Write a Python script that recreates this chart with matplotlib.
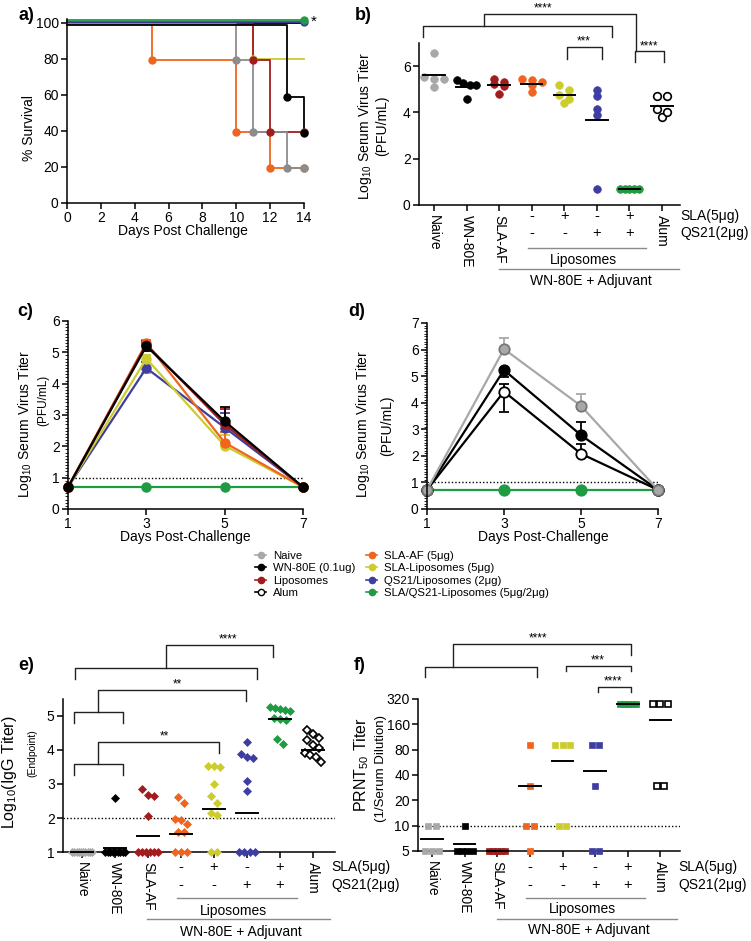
import numpy as np
import matplotlib
matplotlib.use('Agg')
import matplotlib.pyplot as plt
import matplotlib.transforms as mtransforms
from matplotlib.lines import Line2D
from matplotlib.ticker import MultipleLocator, NullLocator

plt.rcParams['font.family'] = ['Liberation Sans', 'DejaVu Sans']
plt.rcParams['mathtext.default'] = 'regular'

GRAY_A = '#8c8c8c'
GRAY = '#a8a8a8'
DRED = '#a11d1d'
ORANGE = '#f0641e'
YELLOW = '#cccc2e'
BLUE = '#3e3ea2'
GREEN = '#1f9b42'

# ---- legend groups ----
legend_names = ['Naive', 'WN-80E (0.1ug)', 'Liposomes', 'Alum',
                'SLA-AF (5μg)', 'SLA-Liposomes (5μg)', 'QS21/Liposomes (2μg)',
                'SLA/QS21-Liposomes (5μg/2μg)']
legend_colors = [GRAY, 'black', DRED, 'white', ORANGE, YELLOW, BLUE, GREEN]

# ---- a) survival (same group order as legend) ----
a_days = [[0, 10, 11, 13, 14], [0, 13, 14], [0, 11, 12, 14], [0, 14],
          [0, 5, 10, 12, 14], [0, 11, 14], [0, 14], [0, 14]]
a_surv = [[100, 80, 40, 20, 20], [100, 60, 40], [100, 80, 40, 40], [100, 100],
          [100, 80, 40, 20, 20], [100, 80, 80], [100, 100], [100, 100]]
a_colors = [GRAY_A, 'black', DRED, 'black', ORANGE, YELLOW, BLUE, GREEN]
a_shift = [-0.6, -1.0, -0.4, 0, -0.3, 0, 0.4, 1.5]
a_mark_end = [True, True, True, False, True, False, True, True]
a_order = [5, 3, 2, 4, 0, 1, 6, 7]

# ---- c) viremia, vaccinated groups ----
c_days = [1, 3, 5, 7]
c_mean = [[0.7, 5.2, 2.8, 0.7], [0.7, 5.25, 2.7, 0.7], [0.7, 5.3, 2.12, 0.7],
          [0.7, 4.8, 2.02, 0.7], [0.7, 4.5, 2.6, 0.7], [0.7, 0.7, 0.7, 0.7]]
c_err_lo = [[0, 0.15, 0, 0], [0, 0, 0, 0], [0, 0, 0, 0],
            [0, 0.45, 0, 0], [0, 0.15, 0.15, 0], [0, 0, 0, 0]]
c_err_hi = [[0, 0.1, 0.45, 0], [0, 0.1, 0.5, 0], [0, 0.1, 0.35, 0],
            [0, 0.1, 0.33, 0], [0, 0.2, 0.45, 0], [0, 0, 0, 0]]
c_colors = ['black', DRED, ORANGE, YELLOW, BLUE, GREEN]
c_order = [5, 4, 3, 2, 1, 0]

# ---- d) viremia, controls ----
d_mean = [[0.72, 6.02, 3.88, 0.72], [0.72, 5.23, 2.78, 0.72],
          [0.72, 4.42, 2.08, 0.72], [0.72, 0.72, 0.72, 0.72]]
d_err_lo = [[0, 0, 0, 0], [0, 0.26, 0, 0], [0, 0.77, 0, 0], [0, 0, 0, 0]]
d_err_hi = [[0, 0.4, 0.45, 0], [0, 0, 0.5, 0], [0, 0.3, 0.36, 0], [0, 0, 0, 0]]
d_colors = [GRAY, 'black', 'black', GREEN]
d_face = [GRAY, 'black', 'white', GREEN]
d_order = [3, 2, 1, 0]

# ---- b, e, f) per-animal values ----
cat_labels = ['Naive', 'WN-80E', 'SLA-AF', '', '', '', '', 'Alum']
sla_row = ['-', '+', '-', '+']
qs21_row = ['-', '-', '+', '+']
dot_colors = [GRAY, 'black', DRED, ORANGE, YELLOW, BLUE, GREEN, 'white']

b_vals = [[6.57, 5.46, 5.43, 5.55, 5.12], [5.39, 5.2, 5.2, 5.29, 4.57],
          [5.22, 5.32, 5.46, 4.81, 5.15], [5.3, 5.45, 5.4, 5.2, 4.88],
          [5.18, 4.98, 4.74, 4.4, 4.57], [4.96, 4.69, 4.13, 3.87, 0.68],
          [0.7, 0.7, 0.7, 0.7, 0.7], [4.7, 4.7, 4.15, 3.8, 4.0]]
b_means = [5.6, 5.12, 5.19, 5.22, 4.74, 3.67, 0.7, 4.28]

e_vals = [[1] * 10,
          [2.6] + [1] * 9,
          [2.84, 2.65, 2.68, 2.07, 1, 1, 1, 1, 1, 1],
          [2.62, 2.45, 1.97, 1.94, 1.82, 1.6, 1.6, 1, 1, 1],
          [3.54, 3.49, 3.52, 3.0, 2.65, 2.43, 2.14, 2.1, 1, 1],
          [4.24, 3.8, 3.77, 3.88, 3.08, 2.79, 1, 1, 1, 1],
          [5.24, 5.2, 5.17, 5.26, 5.15, 4.95, 4.9, 4.88, 4.32, 4.18],
          [4.6, 4.47, 4.35, 4.3, 4.15, 4.05, 3.9, 3.85, 3.78, 3.65]]
e_means = [1.0, 1.12, 1.46, 1.52, 2.27, 2.15, 4.91, 4.0]

f_vals = [[10, 10, 5, 5, 5], [10, 5, 5, 5, 5], [5, 5, 5, 5, 5],
          [90, 30, 10, 10, 5], [90, 90, 90, 10, 10], [90, 90, 30, 5, 5],
          [280, 280, 280, 280, 280], [280, 280, 280, 30, 30]]
f_means = [7, 6, 5, 30, 59, 45, 280, 180]
f_ticks = [5, 10, 20, 40, 80, 160, 320]

W, H = 751, 941
fig = plt.figure(figsize=(W / 100, H / 100), dpi=100)


def add_ax(x0, y0, x1, y1):
    return fig.add_axes([x0 / W, 1 - y1 / H, (x1 - x0) / W, (y1 - y0) / H])


def ftext(x, y, s, **kw):
    fig.text(x / W, 1 - y / H, s, ha='center', va='center', **kw)


def style(ax):
    for s in ['top', 'right']:
        ax.spines[s].set_visible(False)
    for s in ['left', 'bottom']:
        ax.spines[s].set_linewidth(1.1)
    ax.tick_params(width=1.1, length=4, labelsize=10, pad=2)


def spread(vals, step, tol, maxw):
    vals = np.asarray(vals, float)
    order = np.argsort(-vals, kind='stable')
    offs = np.zeros(len(vals))
    clusters = []
    for i in order:
        if clusters and abs(vals[clusters[-1][0]] - vals[i]) <= tol:
            clusters[-1].append(i)
        else:
            clusters.append([i])
    for c in clusters:
        n = len(c)
        st = step if n < 2 else min(step, maxw / (n - 1))
        for k, i in enumerate(c):
            offs[i] = (k - (n - 1) / 2) * st
    return offs


def dots(ax, vals, means, marker, ms, step, tol, maxw, logy=False):
    for i, v in enumerate(vals):
        key = np.log2(v) if logy else v
        x = i + spread(key, step, tol, maxw)
        open_ = dot_colors[i] == 'white'
        ax.plot(x, v, ls='none', marker=marker, ms=ms,
                mfc=dot_colors[i], mec='black' if open_ else dot_colors[i],
                mew=1.2 if open_ else 0.5, clip_on=False, zorder=3)
        ax.plot([i - 0.33, i + 0.33], [means[i], means[i]], color='black',
                lw=1.4, clip_on=False, zorder=4)


def under(ax, dy):
    return mtransforms.offset_copy(ax.get_xaxis_transform(), fig=fig,
                                   x=0, y=-dy * 0.72, units='points')


def adjuvant_axis(ax, d):
    ax.set_xticks(range(8))
    ax.set_xticklabels(cat_labels, rotation=270, va='top', ha='center',
                       fontsize=10)
    ax.tick_params(axis='x', pad=3)
    for i in range(4):
        ax.text(3 + i, 0, sla_row[i], transform=under(ax, d[0]),
                ha='center', va='center', fontsize=10.5)
        ax.text(3 + i, 0, qs21_row[i], transform=under(ax, d[1]),
                ha='center', va='center', fontsize=10.5)
    ax.text(7.55, 0, 'SLA(5μg)', transform=under(ax, d[0]),
            ha='left', va='center', fontsize=10)
    ax.text(7.55, 0, 'QS21(2μg)', transform=under(ax, d[1]),
            ha='left', va='center', fontsize=10)
    ax.plot([2.87, 6.52], [0, 0], transform=under(ax, d[2]),
            color='#8a8a8a', lw=1.0, clip_on=False)
    ax.text(4.6, 0, 'Liposomes', transform=under(ax, d[3]),
            ha='center', va='center', fontsize=10)
    ax.plot([1.98, 7.52], [0, 0], transform=under(ax, d[4]),
            color='#8a8a8a', lw=1.0, clip_on=False)
    ax.text(4.8, 0, 'WN-80E + Adjuvant', transform=under(ax, d[5]),
            ha='center', va='center', fontsize=10)


def bracket(ax, x0, x1, y, yl, yr):
    ax.plot([x0, x0, x1, x1], [yl, y, y, yr], color='#222222', lw=1.0,
            clip_on=False, zorder=5)


def stars(ax, x, y, s):
    ax.text(x, y, s, ha='center', va='baseline', fontsize=8.5,
            clip_on=False)


# ================= a) =================
ax = add_ax(67, 19.4, 304, 203)
style(ax)
for g in a_order:
    t = a_days[g]
    s = np.array(a_surv[g], float) + a_shift[g]
    ax.step(t, s, where='post', color=a_colors[g], lw=1.3, clip_on=False,
            zorder=2)
    idx = [i for i in range(1, len(s)) if a_surv[g][i] < a_surv[g][i - 1]]
    if a_mark_end[g] and len(t) - 1 not in idx:
        idx.append(len(t) - 1)
    if idx:
        ax.plot(np.array(t)[idx], s[idx], 'o', color=a_colors[g], ms=5,
                clip_on=False, zorder=3)
ax.set_xlim(0, 14)
ax.set_ylim(0, 102)
ax.set_xticks(range(0, 15, 2))
ax.set_yticks(range(0, 101, 20))
ax.text(14.55, 100.5, '*', fontsize=11, ha='center', va='center')
ftext(183, 231, 'Days Post Challenge', fontsize=10)
ftext(29, 128, '% Survival', fontsize=10, rotation=90)
ftext(26, 16, 'a)', fontsize=13, fontweight='bold')

# ================= b) =================
ax = add_ax(419, 43, 680, 205)
style(ax)
dots(ax, b_vals, b_means, 'o', 5.5, 0.3, 0.2, 0.6)
ax.set_xlim(-0.46, 7.55)
ax.set_ylim(0, 7)
ax.set_yticks([0, 2, 4, 6])
adjuvant_axis(ax, [11, 28, 43, 55, 64, 76])
bracket(ax, 1.54, 6.2, 8.26, 7.74, 6.65)
bracket(ax, -0.34, 5.47, 7.74, 7.26, 7.26)
bracket(ax, 4.08, 5.16, 6.83, 6.3, 6.3)
bracket(ax, 6.17, 7.06, 6.65, 6.17, 6.17)
stars(ax, 3.35, 8.35, '****')
stars(ax, 4.6, 6.92, '***')
stars(ax, 6.6, 6.74, '****')
ftext(365, 126, 'Log$_{10}$ Serum Virus Titer', fontsize=10, rotation=90)
ftext(382, 126, '(PFU/mL)', fontsize=10, rotation=90)
ftext(363, 16, 'b)', fontsize=13, fontweight='bold')

# ================= c) =================
ax = add_ax(68, 321, 303, 509)
style(ax)
ax.axhline(1.0, color='black', ls=(0, (1, 1.5)), lw=1.0, zorder=1)
for g in c_order:
    ax.plot(c_days, c_mean[g], '-o', color=c_colors[g], ms=6.5, lw=1.6,
            clip_on=False, zorder=2 + (5 - g) * 0.1)
    lo = np.array(c_err_lo[g])
    hi = np.array(c_err_hi[g])
    m = (lo > 0) | (hi > 0)
    if m.any():
        ax.errorbar(np.array(c_days)[m], np.array(c_mean[g])[m],
                    yerr=[lo[m], hi[m]], fmt='none', ecolor=c_colors[g],
                    elinewidth=1.3, capsize=3.5, capthick=1.3, zorder=1.9)
ax.set_xlim(1, 7)
ax.set_ylim(0, 6)
ax.set_xticks(c_days)
ax.set_yticks(range(0, 7))
ax.yaxis.set_minor_locator(MultipleLocator(0.1))
ax.tick_params(axis='y', which='minor', length=2, width=0.6)
ftext(185, 537, 'Days Post-Challenge', fontsize=10)
ftext(25, 424, 'Log$_{10}$ Serum Virus Titer', fontsize=10, rotation=90)
ftext(43, 400, '(PFU/mL)', fontsize=8.5, rotation=90)
ftext(25, 312, 'c)', fontsize=13, fontweight='bold')

# ================= d) =================
ax = add_ax(427, 323, 658, 509)
style(ax)
ax.axhline(1.0, color='black', ls=(0, (1, 1.5)), lw=1.0, zorder=1)
for g in d_order:
    ax.plot(c_days, d_mean[g], '-o', color=d_colors[g], mfc=d_face[g],
            mec='#777777' if g == 0 else d_colors[g], mew=1.3, ms=7.5,
            lw=1.6, clip_on=False, zorder=2 + (3 - g) * 0.1)
    lo = np.array(d_err_lo[g])
    hi = np.array(d_err_hi[g])
    m = (lo > 0) | (hi > 0)
    if m.any():
        ax.errorbar(np.array(c_days)[m], np.array(d_mean[g])[m],
                    yerr=[lo[m], hi[m]], fmt='none', ecolor=d_colors[g],
                    elinewidth=1.3, capsize=3.5, capthick=1.3, zorder=1.9)
ax.set_xlim(1, 7)
ax.set_ylim(0, 7)
ax.set_xticks(c_days)
ax.set_yticks(range(0, 8))
ax.yaxis.set_minor_locator(MultipleLocator(0.1))
ax.tick_params(axis='y', which='minor', length=2, width=0.6)
ftext(543, 537, 'Days Post-Challenge', fontsize=10)
ftext(363, 424, 'Log$_{10}$ Serum Virus Titer', fontsize=10, rotation=90)
ftext(387, 426, '(PFU/mL)', fontsize=10, rotation=90)
ftext(357, 312, 'd)', fontsize=13, fontweight='bold')

# ================= legend =================
handles = []
for name, col in zip(legend_names, legend_colors):
    handles.append(Line2D([], [], color='black' if col == 'white' else col,
                          marker='o', ms=4.5, lw=1.2, mfc=col,
                          mec='black' if col == 'white' else col, mew=1.0))
fig.legend(handles, legend_names, loc='upper left', ncol=2, frameon=False,
           bbox_to_anchor=(255 / W, 1 - 551 / H), borderaxespad=0,
           borderpad=0, fontsize=8.2, handlelength=1.0, handletextpad=0.6,
           labelspacing=0.2, columnspacing=0.9)

# ================= e) =================
ax = add_ax(63, 699, 335, 852)
style(ax)
ax.axhline(2.0, color='black', ls=(0, (1, 1.5)), lw=1.0, zorder=1)
dots(ax, e_vals, e_means, 'D', 4.2, 0.17, 0.25, 0.6)
ax.set_xlim(-0.58, 7.67)
ax.set_ylim(1, 5.5)
ax.set_yticks([1, 2, 3, 4, 5])
adjuvant_axis(ax, [15, 33, 46, 59, 67, 80])
bracket(ax, 2.55, 5.79, 7.09, 6.41, 6.74)
bracket(ax, -0.21, 5.3, 6.41, 6.09, 6.09)
bracket(ax, 0.48, 4.97, 5.76, 5.12, 5.44)
bracket(ax, -0.24, 1.24, 5.12, 4.79, 4.79)
bracket(ax, 0.48, 4.15, 4.24, 3.59, 3.91)
bracket(ax, -0.24, 1.24, 3.59, 3.26, 3.26)
stars(ax, 4.42, 7.16, '****')
stars(ax, 2.9, 5.83, '**')
stars(ax, 2.5, 4.31, '**')
ftext(10, 772, 'Log$_{10}$(IgG Titer)', fontsize=11.5, rotation=90)
ftext(32, 753, '(Endpoint)', fontsize=7.5, rotation=90)
ftext(26, 665, 'e)', fontsize=13, fontweight='bold')

# ================= f) =================
ax = add_ax(418, 699, 680, 851)
style(ax)
ax.set_yscale('log', base=2)
ax.axhline(10, color='black', ls=(0, (1, 1.5)), lw=1.0, zorder=1)
dots(ax, f_vals, f_means, 's', 5, 0.22, 0.3, 0.5, logy=True)
ax.set_xlim(-0.43, 7.6)
ax.set_ylim(5, 320)
ax.set_yticks(f_ticks)
ax.set_yticklabels([str(t) for t in f_ticks])
ax.yaxis.set_minor_locator(NullLocator())
adjuvant_axis(ax, [16, 34, 47, 58, 68, 79])
bracket(ax, 0.64, 6.09, 1453, 772, 1076)
bracket(ax, -0.21, 3.23, 772, 589, 589)
bracket(ax, 4.11, 6.09, 794, 692, 692)
bracket(ax, 5.08, 6.09, 447, 389, 389)
stars(ax, 3.26, 1540, '****')
stars(ax, 5.08, 840, '***')
stars(ax, 5.55, 474, '****')
ftext(362, 765, 'PRNT$_{50}$ Titer', fontsize=11.5, rotation=90)
ftext(381, 768, '(1/Serum Dilution)', fontsize=9.5, rotation=90)
ftext(360, 665, 'f)', fontsize=13, fontweight='bold')

fig.savefig('out.png', dpi=100, facecolor='white')
